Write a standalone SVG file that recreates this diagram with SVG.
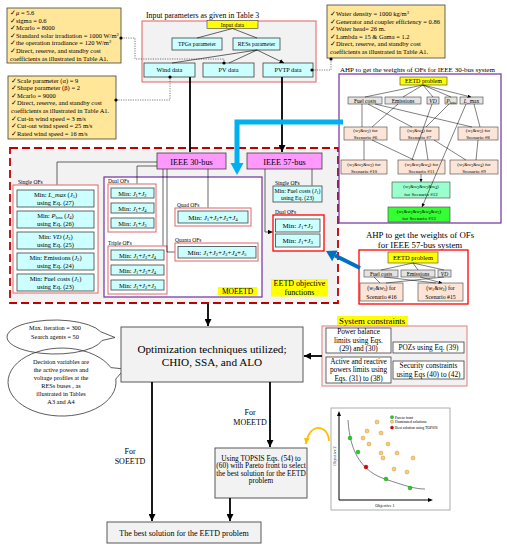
<svg xmlns="http://www.w3.org/2000/svg" width="507" height="550" viewBox="0 0 507 550">
<defs>
<style>
text{font-family:"Liberation Serif","DejaVu Serif",serif;fill:#000}
.m{text-anchor:middle}
.i{font-style:italic}
.s{font-size:70%;baseline-shift:-18%}
.u{font-size:70%;baseline-shift:super}
.p{font-size:6.5px}
.par{fill:#ffe699;stroke:#404040;stroke-width:0.8}
.cy{fill:#ccffff;stroke:#404040;stroke-width:0.8}
.gr{fill:#e3e3e3;stroke:#404040;stroke-width:0.6}
.sc{fill:#fce4d6;stroke:#404040;stroke-width:0.6}
.yl{fill:#ffff00;stroke:#404040;stroke-width:0.6}
.pk{fill:#ff99ff;stroke:#404040;stroke-width:0.8}
.pr{fill:#fff;stroke:#e06666;stroke-width:1}
.wb{fill:#fff;stroke:#404040;stroke-width:0.8}
.ln{fill:none;stroke:#000;stroke-width:0.6;marker-end:url(#a)}
.lt{fill:none;stroke:#000;stroke-width:0.5;marker-end:url(#t)}
.tk{fill:none;stroke:#000;stroke-width:1.8;marker-end:url(#A)}
.dt{fill:none;stroke:#444;stroke-width:0.7;stroke-dasharray:1.2 1.2}
.dot{fill:#000}
.bub{fill:none;stroke:#333;stroke-width:0.8}
.sn{font-size:5px}
</style>
<marker id="a" viewBox="0 0 10 10" refX="10" refY="5" markerWidth="4.5" markerHeight="4.5" orient="auto" markerUnits="userSpaceOnUse"><path d="M0,0L10,5L0,10z"/></marker>
<marker id="t" viewBox="0 0 10 10" refX="10" refY="5" markerWidth="3.5" markerHeight="3.5" orient="auto" markerUnits="userSpaceOnUse"><path d="M0,0L10,5L0,10z"/></marker>
<marker id="A" viewBox="0 0 10 10" refX="10" refY="5" markerWidth="7" markerHeight="7" orient="auto" markerUnits="userSpaceOnUse"><path d="M0,0L10,5L0,10z"/></marker>
<marker id="Y" viewBox="0 0 10 10" refX="10" refY="5" markerWidth="6" markerHeight="6" orient="auto" markerUnits="userSpaceOnUse"><path d="M0,0L10,5L0,10z" fill="#ffc000"/></marker>
</defs>
<rect width="507" height="550" fill="#fff"/>

<!-- parameter boxes -->
<g id="solar-params">
<rect class="par" x="7" y="8" width="114" height="55"/>
<text class="p" x="10" y="15">✓<tspan class="i">μ</tspan> = 5.6</text>
<text class="p" x="10" y="22.5">✓sigma = 0.6</text>
<text class="p" x="10" y="30">✓Mcarlo = 8000</text>
<text class="p" x="10" y="37.5">✓Standard solar irradiation = 1000 W/m<tspan class="u">2</tspan></text>
<text class="p" x="10" y="45">✓the operation irradiance = 120 W/m<tspan class="u">2</tspan></text>
<text class="p" x="10" y="53">✓Direct, reserve, and standby cost</text>
<text class="p" x="10" y="60.5">coefficients as illustrated in Table A1.</text>
</g>
<g id="wind-params">
<rect class="par" x="8" y="76" width="108" height="63"/>
<text class="p" x="11" y="82.5">✓Scale parameter (α) = 9</text>
<text class="p" x="11" y="90">✓Shape parameter (β) = 2</text>
<text class="p" x="11" y="97.5">✓Mcarlo = 9000</text>
<text class="p" x="11" y="105">✓Direct, reserve, and standby cost</text>
<text class="p" x="11" y="112.5">coefficients as illustrated in Table A1.</text>
<text class="p" x="11" y="120.5">✓Cut-in wind speed = 3 m/s</text>
<text class="p" x="11" y="128">✓Cut-out wind speed = 25 m/s</text>
<text class="p" x="11" y="135.5">✓Rated wind speed = 16 m/s</text>
</g>
<g id="hydro-params">
<rect class="par" x="327" y="5" width="118" height="53"/>
<text class="p" x="330" y="16">✓Water density = 1000 kg/m<tspan class="u">3</tspan></text>
<text class="p" x="330" y="23.5">✓Generator and coupler efficiency = 0.86</text>
<text class="p" x="330" y="31">✓Water head= 26 m.</text>
<text class="p" x="330" y="38.5">✓Lambda = 15 &amp; Gama = 1.2</text>
<text class="p" x="330" y="46">✓Direct, reserve, and standby cost</text>
<text class="p" x="330" y="54">coefficients as illustrated in Table A1.</text>
</g>

<!-- input data -->
<g id="input-params">
<text x="146" y="17.5" font-size="7.8">Input parameters as given in Table 3</text>
<rect x="142" y="21" width="174" height="61" fill="#f2f2f2" stroke="#e06060" stroke-width="1"/>
</g>
<g id="input-data"><rect class="yl" x="207" y="20.5" width="51" height="8"/><text class="m" x="232.5" y="26.8" font-size="5.8">Input data</text></g>
<g id="tpgs"><rect class="cy" x="172" y="38" width="50" height="12"/><text class="m" x="197" y="46.3" font-size="5.8">TPGs parameter</text></g>
<g id="ress"><rect class="cy" x="233" y="38" width="47" height="12"/><text class="m" x="256.5" y="46.3" font-size="5.8">RESs parameter</text></g>
<g id="wind-data"><rect class="cy" x="144" y="63" width="51" height="14"/><text class="m" x="169.5" y="72.3" font-size="6.3">Wind data</text></g>
<g id="pv-data"><rect class="cy" x="203" y="63" width="51" height="14"/><text class="m" x="228.5" y="72.3" font-size="6.3">PV data</text></g>
<g id="pvtp-data"><rect class="cy" x="263" y="63" width="50" height="14"/><text class="m" x="288" y="72.3" font-size="6.3">PVTP data</text></g>

<!-- EETD objective functions region -->
<g id="eetd-objectives">
<rect x="10" y="148" width="328" height="155" fill="#f2f2f2" stroke="#c00000" stroke-width="1.8" stroke-dasharray="8 4"/>
<rect x="271" y="279" width="57" height="17.5" fill="#ffff00"/>
<text class="m" x="299.5" y="285.5" font-size="8">EETD objective</text>
<text class="m" x="299.5" y="294.5" font-size="8">functions</text>
</g>
<g id="moeetd">
<rect x="104" y="177" width="158" height="120" fill="#fff" stroke="#7030a0" stroke-width="1.2"/>
<rect x="218" y="287" width="39" height="8.5" fill="#ffff00"/>
<text class="m" x="237.5" y="294" font-size="7.5">MOEETD</text>
</g>
<g id="ieee30"><rect class="pk" x="157" y="153" width="69" height="16"/><text class="m" x="191.5" y="164.5" font-size="8.3">IEEE 30-bus</text></g>
<g id="ieee57"><rect class="pk" x="247" y="153" width="75" height="16"/><text class="m" x="284.5" y="164.5" font-size="8.3">IEEE 57-bus</text></g>

<g id="single-30">
<rect class="pr" x="13" y="185" width="85" height="108"/>
<text x="18" y="184" font-size="5.5">Single OFs</text>
<rect class="cy" x="17" y="190" width="77" height="17"/>
<text class="m" x="55.5" y="197" font-size="6.5">Min: <tspan class="i">L_max</tspan> (<tspan class="i">J</tspan><tspan class="s">5</tspan>)</text>
<text class="m" x="55.5" y="205.2" font-size="6.5">using Eq. (27)</text>
<rect class="cy" x="17" y="211" width="77" height="17"/>
<text class="m" x="55.5" y="218" font-size="6.5">Min: <tspan class="i">P</tspan><tspan class="s">loss</tspan> (<tspan class="i">J</tspan><tspan class="s">4</tspan>)</text>
<text class="m" x="55.5" y="226.2" font-size="6.5">using Eq. (26)</text>
<rect class="cy" x="17" y="232" width="77" height="17"/>
<text class="m" x="55.5" y="239" font-size="6.5">Min: <tspan class="i">VD</tspan> (<tspan class="i">J</tspan><tspan class="s">3</tspan>)</text>
<text class="m" x="55.5" y="247.2" font-size="6.5">using Eq. (25)</text>
<rect class="cy" x="17" y="253" width="77" height="17"/>
<text class="m" x="55.5" y="260" font-size="6.5">Min: Emissions (<tspan class="i">J</tspan><tspan class="s">2</tspan>)</text>
<text class="m" x="55.5" y="268.2" font-size="6.5">using Eq. (24)</text>
<rect class="cy" x="17" y="274" width="77" height="17"/>
<text class="m" x="55.5" y="281" font-size="6.5">Min: Fuel costs (<tspan class="i">J</tspan><tspan class="s">1</tspan>)</text>
<text class="m" x="55.5" y="289.2" font-size="6.5">using Eq. (23)</text>
</g>

<g id="dual-30">
<rect class="pr" x="108" y="184" width="48" height="48"/>
<text x="108" y="183" font-size="5.5">Dual OFs</text>
<rect class="cy" x="111" y="188" width="43" height="10"/>
<text class="m" x="132.5" y="195.5" font-size="6.5">Min:  <tspan class="i">J</tspan><tspan class="s">1</tspan>+<tspan class="i">J</tspan><tspan class="s">2</tspan></text>
<rect class="cy" x="111" y="203" width="43" height="10"/>
<text class="m" x="132.5" y="210.5" font-size="6.5">Min:  <tspan class="i">J</tspan><tspan class="s">1</tspan>+<tspan class="i">J</tspan><tspan class="s">4</tspan></text>
<rect class="cy" x="111" y="218" width="43" height="10"/>
<text class="m" x="132.5" y="225.5" font-size="6.5">Min:  <tspan class="i">J</tspan><tspan class="s">1</tspan>+<tspan class="i">J</tspan><tspan class="s">3</tspan></text>
</g>

<g id="triple-30">
<rect class="pr" x="108" y="246" width="59" height="48"/>
<text x="108" y="244.5" font-size="5.5">Triple OFs</text>
<rect class="cy" x="111" y="250" width="53" height="10"/>
<text class="m" x="137.5" y="257.5" font-size="6.5">Min:  <tspan class="i">J</tspan><tspan class="s">1</tspan>+<tspan class="i">J</tspan><tspan class="s">2</tspan>+<tspan class="i">J</tspan><tspan class="s">4</tspan></text>
<rect class="cy" x="111" y="265" width="53" height="10"/>
<text class="m" x="137.5" y="272.5" font-size="6.5">Min:  <tspan class="i">J</tspan><tspan class="s">1</tspan>+<tspan class="i">J</tspan><tspan class="s">3</tspan>+<tspan class="i">J</tspan><tspan class="s">4</tspan></text>
<rect class="cy" x="111" y="280" width="53" height="10"/>
<text class="m" x="137.5" y="287.5" font-size="6.5">Min:  <tspan class="i">J</tspan><tspan class="s">1</tspan>+<tspan class="i">J</tspan><tspan class="s">2</tspan>+<tspan class="i">J</tspan><tspan class="s">3</tspan></text>
</g>

<g id="quad-30">
<text x="177" y="206.5" font-size="5.5">Quad OFs</text>
<rect class="pr" x="175" y="208" width="76" height="18"/>
<rect class="cy" x="178" y="211" width="70" height="12"/>
<text class="m" x="213" y="219.8" font-size="7">Min:  <tspan class="i">J</tspan><tspan class="s">1</tspan>+<tspan class="i">J</tspan><tspan class="s">2</tspan>+<tspan class="i">J</tspan><tspan class="s">3</tspan>+<tspan class="i">J</tspan><tspan class="s">4</tspan></text>
</g>
<g id="quanta-30">
<text x="175" y="241.5" font-size="5.5">Quanta OFs</text>
<rect class="pr" x="175" y="243" width="83" height="18"/>
<rect class="cy" x="178" y="246.5" width="78" height="11.5"/>
<text class="m" x="217" y="255" font-size="7">Min:  <tspan class="i">J</tspan><tspan class="s">1</tspan>+<tspan class="i">J</tspan><tspan class="s">2</tspan>+<tspan class="i">J</tspan><tspan class="s">3</tspan>+<tspan class="i">J</tspan><tspan class="s">4</tspan>+<tspan class="i">J</tspan><tspan class="s">5</tspan></text>
</g>

<g id="single-57">
<text x="275" y="184.5" font-size="5.5">Single OFs</text>
<rect class="cy" x="273" y="186" width="49" height="16"/>
<text class="m" x="297.5" y="193" font-size="5.8">Min: Fuel costs (<tspan class="i">J</tspan><tspan class="s">1</tspan>)</text>
<text class="m" x="297.5" y="200" font-size="5.8">using Eq. (23)</text>
</g>
<g id="dual-57">
<text x="275" y="213.5" font-size="5.5">Dual OFs</text>
<rect x="273" y="215" width="51" height="36" fill="#fff" stroke="#ff0000" stroke-width="1.3"/>
<rect class="cy" x="275.5" y="219" width="44.5" height="13"/>
<text class="m" x="297.7" y="228" font-size="7">Min:  <tspan class="i">J</tspan><tspan class="s">1</tspan>+<tspan class="i">J</tspan><tspan class="s">2</tspan></text>
<rect class="cy" x="275.5" y="234" width="44.5" height="13"/>
<text class="m" x="297.7" y="243" font-size="7">Min:  <tspan class="i">J</tspan><tspan class="s">1</tspan>+<tspan class="i">J</tspan><tspan class="s">3</tspan></text>
</g>

<!-- AHP 30-bus -->
<g id="ahp-30">
<text x="340" y="71.5" font-size="7">AHP to get the weights of OFs for IEEE 30-bus system</text>
<rect x="339" y="74" width="162" height="149" fill="#fff" stroke="#7030a0" stroke-width="1.2"/>
<rect class="yl" x="400" y="77" width="47" height="8"/><text class="m" x="423.5" y="83.3" font-size="6">EETD problem</text>
<rect class="gr" x="348" y="97" width="34" height="7"/><text class="m" x="365" y="102.6" font-size="5.5">Fuel costs</text>
<rect class="gr" x="385" y="97" width="36" height="7"/><text class="m" x="403" y="102.6" font-size="5.5">Emissions</text>
<rect class="gr" x="427" y="97" width="12" height="7"/><text class="m i" x="433" y="102.6" font-size="5.5">VD</text>
<rect class="gr" x="445" y="97" width="12" height="7"/><text class="m" x="451" y="102.6" font-size="5.5"><tspan class="i">P</tspan><tspan class="s">loss</tspan></text>
<rect class="gr" x="460" y="97" width="23" height="7"/><text class="m" x="471.5" y="102.6" font-size="5.5"><tspan class="i">L</tspan>_max</text>
<rect class="sc" x="344" y="127" width="43" height="13"/>
<text class="m sn" x="365.5" y="132.3">(<tspan class="i">w</tspan><tspan class="s">1</tspan>&amp;<tspan class="i">w</tspan><tspan class="s">2</tspan>) for</text>
<text class="m sn" x="365.5" y="139">Scenario #6</text>
<rect class="sc" x="400" y="127" width="39" height="13"/>
<text class="m sn" x="419.5" y="132.3">(<tspan class="i">w</tspan><tspan class="s">1</tspan>&amp;<tspan class="i">w</tspan><tspan class="s">4</tspan>) for</text>
<text class="m sn" x="419.5" y="139">Scenario #7</text>
<rect class="sc" x="458" y="127" width="40" height="13"/>
<text class="m sn" x="478" y="132.3">(<tspan class="i">w</tspan><tspan class="s">1</tspan>&amp;<tspan class="i">w</tspan><tspan class="s">3</tspan>) for</text>
<text class="m sn" x="478" y="139">Scenario #8</text>
<rect class="sc" x="341" y="160" width="46" height="14"/>
<text class="m sn" x="364" y="165.5">(<tspan class="i">w</tspan><tspan class="s">1</tspan>&amp;<tspan class="i">w</tspan><tspan class="s">2</tspan>&amp;<tspan class="i">w</tspan><tspan class="s">3</tspan>) for</text>
<text class="m sn" x="364" y="172.5">Scenario #10</text>
<rect class="sc" x="398" y="160" width="47" height="14"/>
<text class="m sn" x="421.5" y="165.5">(<tspan class="i">w</tspan><tspan class="s">1</tspan>&amp;<tspan class="i">w</tspan><tspan class="s">2</tspan>&amp;<tspan class="i">w</tspan><tspan class="s">4</tspan>) for</text>
<text class="m sn" x="421.5" y="172.5">Scenario #11</text>
<rect class="sc" x="450" y="160" width="48" height="14"/>
<text class="m sn" x="474" y="165.5">(<tspan class="i">w</tspan><tspan class="s">1</tspan>&amp;<tspan class="i">w</tspan><tspan class="s">3</tspan>&amp;<tspan class="i">w</tspan><tspan class="s">4</tspan>) for</text>
<text class="m sn" x="474" y="172.5">Scenario #9</text>
<rect x="392" y="182" width="58" height="16" fill="#99ffcc" stroke="#404040" stroke-width="0.6"/>
<text class="m sn" x="421" y="188.3">(<tspan class="i">w</tspan><tspan class="s">1</tspan>&amp;<tspan class="i">w</tspan><tspan class="s">2</tspan>&amp;<tspan class="i">w</tspan><tspan class="s">3</tspan>&amp;<tspan class="i">w</tspan><tspan class="s">4</tspan>)</text>
<text class="m sn" x="421" y="196">for Scenario #12</text>
<rect x="388" y="207" width="62" height="15" fill="#33ff33" stroke="#404040" stroke-width="0.6"/>
<text class="m sn" x="419" y="212.8">(<tspan class="i">w</tspan><tspan class="s">1</tspan>&amp;<tspan class="i">w</tspan><tspan class="s">2</tspan>&amp;<tspan class="i">w</tspan><tspan class="s">3</tspan>&amp;<tspan class="i">w</tspan><tspan class="s">4</tspan>&amp;<tspan class="i">w</tspan><tspan class="s">5</tspan>)</text>
<text class="m sn" x="419" y="220.3">for Scenario #13</text>
<path class="lt" d="M423,85L365,97M423,85L403,97M423,85L433,97M423,85L451,97M423,85L471,97"/>
<path class="lt" d="M362,104L362,127M398,104L372,127M368,104L412,127M449,104L426,127M375,104L472,127M474,104L480,127M432,104L412,160M466,104L422,207"/>
<path class="lt" d="M364,140L364,160M372,140L414,160M425,140L428,160M478,140L476,160M434,140L466,160M421,174L421,182"/>
</g>

<!-- AHP 57-bus -->
<g id="ahp-57">
<text class="m" x="420" y="237.5" font-size="8.8">AHP to get the weights of OFs</text>
<text class="m" x="420" y="248.3" font-size="8.8">for IEEE 57-bus system</text>
<rect x="359" y="250" width="109" height="54" fill="#fff" stroke="#ff0000" stroke-width="1.3"/>
<rect class="yl" x="388" y="252" width="50" height="11"/><text class="m" x="413" y="260" font-size="6.5">EETD problem</text>
<rect class="gr" x="364" y="270" width="34" height="7"/><text class="m" x="381" y="275.7" font-size="5.5">Fuel costs</text>
<rect class="gr" x="401" y="270" width="34" height="7"/><text class="m" x="418" y="275.7" font-size="5.5">Emissions</text>
<rect class="gr" x="438" y="270" width="13" height="7"/><text class="m i" x="444.5" y="275.7" font-size="5.5">VD</text>
<rect class="sc" x="360" y="283" width="43" height="18"/>
<text class="m" x="381.5" y="290.3" font-size="5.8">(<tspan class="i">w</tspan><tspan class="s">1</tspan>&amp;<tspan class="i">w</tspan><tspan class="s">3</tspan>) for</text>
<text class="m" x="381.5" y="298.5" font-size="5.8">Scenario #16</text>
<rect class="sc" x="418" y="283" width="45" height="18"/>
<text class="m" x="440.5" y="290.3" font-size="5.8">(<tspan class="i">w</tspan><tspan class="s">1</tspan>&amp;<tspan class="i">w</tspan><tspan class="s">2</tspan>) for</text>
<text class="m" x="440.5" y="298.5" font-size="5.8">Scenario #15</text>
<path class="lt" d="M413,263L381,270M413,263L418,270M413,263L444,270M374,277L380,283M444,277L386,283M384,277L436,283M420,277L442,283"/>
</g>

<!-- bubbles -->
<g id="bubble-iter">
<path class="bub" d="M100.6,331.7A48,17 0 1,0 102,340.5L115,337.5Z"/>
<text class="m" x="55" y="330" font-size="6.3">Max. iteration = 300</text>
<text class="m" x="55" y="338.5" font-size="6.3">Search agents = 50</text>
</g>
<g id="bubble-dv">
<path class="bub" d="M110.9,367.6A54,34 0 1,0 115.8,379L124.5,369Z"/>
<text class="m" x="61" y="364" font-size="6.3">Decision variables are</text>
<text class="m" x="61" y="372" font-size="6.3">the active powers and</text>
<text class="m" x="61" y="380" font-size="6.3">voltage profiles at the</text>
<text class="m" x="61" y="388" font-size="6.3">RESs buses , as</text>
<text class="m" x="61" y="396" font-size="6.3">illustrated in Tables</text>
<text class="m" x="61" y="404" font-size="6.3">A3 and A4</text>
</g>

<!-- optimization -->
<g id="optimization">
<rect x="121" y="327" width="182" height="55" fill="#f2f2f2" stroke="#595959" stroke-width="1"/>
<text class="m" x="212" y="352.5" font-size="11.2">Optimization techniques utilized;</text>
<text class="m" x="212" y="366" font-size="11.2">CHIO, SSA, and ALO</text>
</g>

<!-- system constraints -->
<g id="constraints">
<rect x="337" y="316" width="71" height="9.5" fill="#ffff00"/>
<text x="339" y="324" font-size="8.8">System constraints</text>
<rect x="322" y="326" width="145" height="60" fill="#f2f2f2" stroke="#e08080" stroke-width="1"/>
<rect class="wb" x="326" y="328" width="65" height="25"/>
<text class="m" x="358.5" y="334.3" font-size="7.3">Power balance</text>
<text class="m" x="358.5" y="342.6" font-size="7.3">limits using Eqs.</text>
<text class="m" x="358.5" y="351" font-size="7.3">(29) and (30)</text>
<rect class="wb" x="393" y="342" width="71" height="11"/>
<text class="m" x="428.5" y="350.3" font-size="7.3">POZs using Eq. (39)</text>
<rect class="wb" x="326" y="357" width="65" height="26"/>
<text class="m" x="358.5" y="363.5" font-size="7.3">Active and reactive</text>
<text class="m" x="358.5" y="372" font-size="7.3">powers limits using</text>
<text class="m" x="358.5" y="380.5" font-size="7.3">Eqs. (31) to (38)</text>
<rect class="wb" x="393" y="361" width="71" height="18"/>
<text class="m" x="428.5" y="368.3" font-size="7.3">Security constraints</text>
<text class="m" x="428.5" y="376.8" font-size="7.3">using Eqs (40) to (42)</text>
</g>

<!-- TOPSIS and best -->
<g id="topsis">
<rect x="215" y="448" width="92" height="50" fill="#f2f2f2" stroke="#595959" stroke-width="1"/>
<text class="m" x="261" y="460.5" font-size="7.3">Using TOPSIS Eqs. (54) to</text>
<text class="m" x="261" y="468" font-size="7.3">(60) with Pareto front to select</text>
<text class="m" x="261" y="475.5" font-size="7.3">the best solution for the EETD</text>
<text class="m" x="261" y="483" font-size="7.3">problem</text>
</g>
<g id="best-solution">
<rect x="107" y="522" width="154" height="21" fill="#f2f2f2" stroke="#595959" stroke-width="1"/>
<text class="m" x="184" y="535.5" font-size="8">The best solution for the EETD problem</text>
</g>

<!-- pareto chart -->
<g id="pareto-chart">
<rect x="331" y="408" width="119" height="102" fill="#fff" stroke="#999" stroke-width="0.8"/>
<path d="M339,500V414M339,500H430" fill="none" stroke="#000" stroke-width="1"/>
<path d="M339,411L337,416H341Z M433,500L428,498V502Z"/>
<path d="M348,420C350,455 364,472 385,479S415,489 425,489" fill="none" stroke="#333" stroke-width="0.6"/>
<g fill="#ffcc66" stroke="#996633" stroke-width="0.3">
<circle cx="377" cy="422" r="2"/><circle cx="367" cy="431" r="2"/><circle cx="381" cy="433" r="2"/><circle cx="363" cy="438" r="2"/><circle cx="369" cy="444" r="2"/><circle cx="388" cy="444" r="2"/><circle cx="381" cy="453" r="2"/><circle cx="383" cy="458" r="2"/><circle cx="397" cy="453" r="2"/><circle cx="413" cy="458" r="2"/><circle cx="394" cy="469" r="2"/><circle cx="407" cy="472" r="2"/>
<circle cx="392" cy="421.7" r="1.6"/>
</g>
<g fill="#22cc22" stroke="#117711" stroke-width="0.3">
<circle cx="350" cy="438" r="2"/><circle cx="358" cy="452" r="2"/><circle cx="386" cy="479" r="2"/><circle cx="410" cy="488" r="2"/><circle cx="392" cy="417.2" r="1.6"/>
</g>
<g fill="#dd0000" stroke="#770000" stroke-width="0.3"><circle cx="366" cy="467" r="2"/><circle cx="392" cy="427.6" r="1.6"/></g>
<text x="395" y="418.5" font-size="3.8">Pareto front</text>
<text x="395" y="423" font-size="3.8">Dominated solutions</text>
<text x="395" y="429" font-size="3.8">Best solution using TOPSIS</text>
<text class="m" x="385" y="507" font-size="4.2">Objective 1</text>
<text class="m" x="0" y="0" font-size="4.2" transform="translate(335.5,456) rotate(-90)">Objective 2</text>
</g>

<!-- connectors -->
<g id="connectors">
<path class="dt" d="M121,38H135V59H224V63M116,100H170V77M312,70H331V59"/>
<circle class="dot" cx="121" cy="38" r="1.6"/><circle class="dot" cx="224" cy="63" r="1.6"/>
<circle class="dot" cx="116" cy="100" r="1.6"/><circle class="dot" cx="170" cy="77" r="1.6"/>
<circle class="dot" cx="312" cy="70" r="1.6"/><circle class="dot" cx="331" cy="59" r="1.6"/>
<path class="ln" d="M232.5,28.5L197,38M232.5,28.5L257,38M257,50L172,63M257,50L229,63M257,50L284,63"/>
<path class="tk" d="M190,77V152M282,77V152"/>
<path class="ln" d="M157,162H57V184.5M157,166H137V183.5M163,169V245.5M167,169V252H174.5M208,169V207.5M312,169V185.5M265,169V232H272.5"/>
<path d="M343,122H237V164" fill="none" stroke="#00b0f0" stroke-width="5"/>
<path d="M237,175L230.5,163H243.5Z" fill="#00b0f0"/>
<path d="M360,268L335,255.5" fill="none" stroke="#0070c0" stroke-width="4"/>
<path d="M326,251L337.6,250.6L332.2,261.3Z" fill="#0070c0"/>
<path class="tk" d="M208,304V326"/>
<path class="tk" d="M322,356H304"/>
<path class="tk" d="M152,382V521"/>
<path class="tk" d="M270,382V447"/>
<path class="tk" d="M230,498V521"/>
<path d="M329,441C328,424 309,422 306,444" fill="none" stroke="#ffc000" stroke-width="1.8" marker-end="url(#Y)"/>
<text class="m" x="130" y="454" font-size="8">For</text>
<text class="m" x="130" y="464" font-size="8">SOEETD</text>
<text class="m" x="250" y="414.5" font-size="8">For</text>
<text class="m" x="250" y="424.5" font-size="8">MOEETD</text>
</g>
</svg>
